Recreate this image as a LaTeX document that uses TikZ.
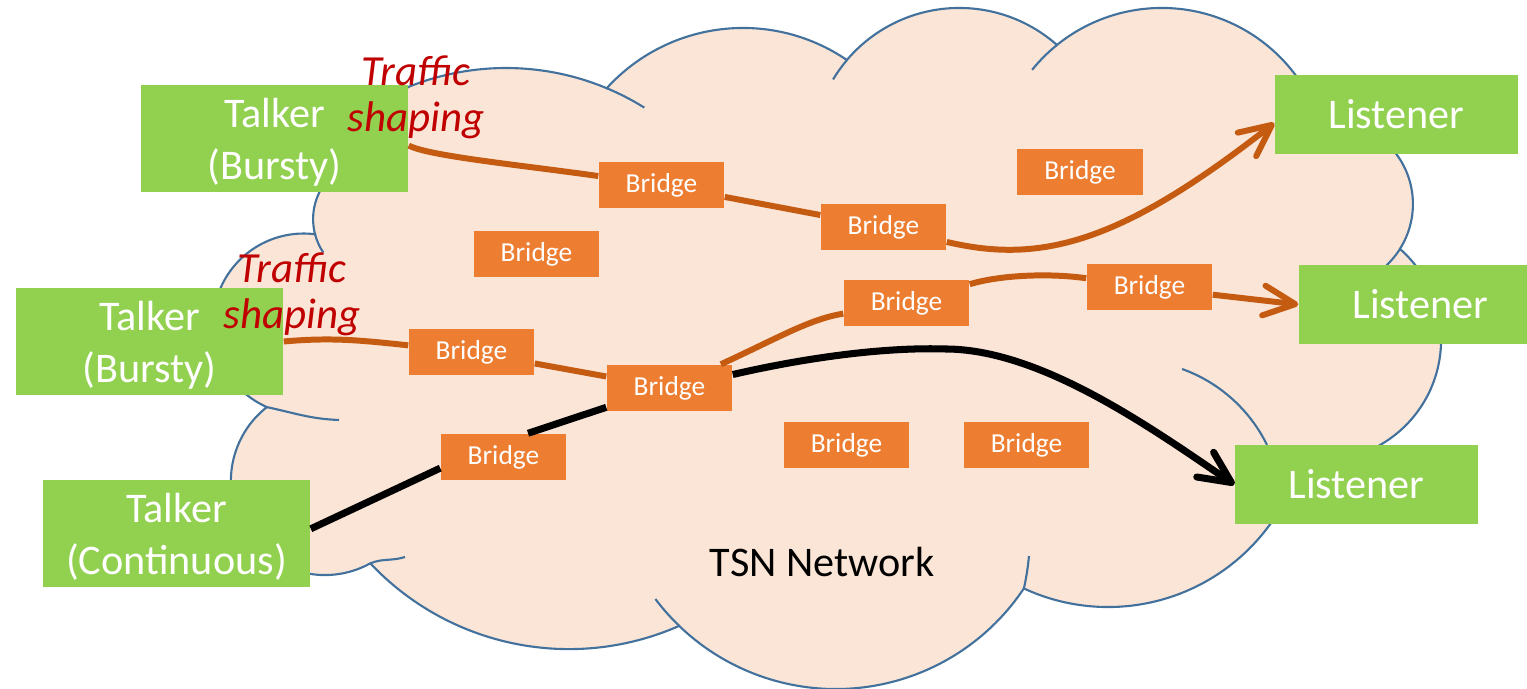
\documentclass[tikz,border=0pt]{standalone}
\usepackage{fontspec}
\setmainfont{Carlito}
\usepackage{tikz}
\usetikzlibrary{arrows.meta}
\definecolor{tsngreen}{RGB}{146,208,80}
\definecolor{bridgeorange}{RGB}{237,125,49}
\definecolor{floworange}{RGB}{197,90,17}
\definecolor{cloudfill}{RGB}{251,229,214}
\definecolor{cloudline}{RGB}{65,113,156}
\definecolor{shapingred}{RGB}{192,0,0}
\newcommand{\boxfont}{\fontsize{12pt}{14.8pt}\selectfont}
\newcommand{\bridgefont}{\fontsize{7.8pt}{9pt}\selectfont}
\newcommand{\notefont}{\fontsize{12.2pt}{13.1pt}\selectfont\itshape}

\begin{document}
\begin{tikzpicture}[x=0.01cm,y=0.01cm,
  endbox/.style={fill=tsngreen,text=white,minimum width=2.67cm,minimum height=1.07cm,inner sep=0pt,align=center,font=\boxfont},
  listenerbox/.style={fill=tsngreen,text=white,minimum width=2.43cm,minimum height=0.79cm,inner sep=0pt,font=\boxfont},
  bridgebox/.style={fill=bridgeorange,text=white,minimum width=1.25cm,minimum height=0.46cm,inner sep=0pt,font=\bridgefont},
  shapingnote/.style={text=shapingred,align=center,inner sep=0pt,font=\notefont},
  cloudedge/.style={draw=cloudline,line width=0.6pt},
  flow/.style={draw=floworange,line width=1.7pt},
  stream/.style={draw=black,line width=2pt},
  tip/.style={-{Straight Barb[length=9pt,width=8.5pt,round]}}]
\useasboundingbox (0,0) rectangle (1527,689);

\draw[cloudedge,fill=cloudfill] (266.8,281.9) arc[start angle=246,end angle=82.8,radius=90.7]
  arc[start angle=194.7,end angle=100,radius=60] -- (407.8,601.8)
  arc[start angle=112.1,end angle=67.3,radius=261]
  arc[start angle=137.7,end angle=55.7,radius=184.3]
  arc[start angle=139.7,end angle=48.5,radius=147.4]
  arc[start angle=128.9,end angle=18.8,radius=166.9]
  arc[start angle=96.6,end angle=-32.4,radius=83.6]
  arc[start angle=48.7,end angle=-99,radius=121.1]
  arc[start angle=-15.2,end angle=-114.9,radius=200]
  arc[start angle=-33.7,end angle=-133.9,radius=226]
  arc[start angle=-66.2,end angle=-136.7,radius=273]
  arc[start angle=-61.1,end angle=-231.8,radius=94] -- cycle;
\draw[cloudedge] (266.8,281.9) to[out=-12,in=178] (339,269);
\draw[cloudedge] (315,454.8) arc[start angle=194.7,end angle=214,radius=60];
\draw[cloudedge] (606.7,600.8) arc[start angle=67.3,end angle=58,radius=261];
\draw[cloudedge] (847,629) arc[start angle=139.7,end angle=149,radius=147.4];
\draw[cloudedge] (1057,644) arc[start angle=128.9,end angle=141,radius=166.9];
\draw[cloudedge] (1400,440) arc[start angle=-32.4,end angle=-47,radius=83.6];
\draw[cloudedge] (1182.1,320) arc[start angle=70.2,end angle=26.2,radius=152];
\draw[cloudedge] (1023.9,100.5) to[out=78,in=-96] (1029,133);
\draw[cloudedge] (679.2,63.1) arc[start angle=-133.9,end angle=-143,radius=226];
\draw[cloudedge] (370.4,125.7) to[out=22,in=198] (405,132);

\node[endbox] (t1) at (274.5,550.5) {\strut Talker\\(Bursty)};
\node[endbox] (t2) at (149.5,347.5) {\strut Talker\\(Bursty)};
\node[endbox] (t3) at (176.5,155.5) {\strut Talker\\(Continuous)};
\node[listenerbox] (l1) at (1396.5,574.5) {Listener};
\node[listenerbox] (l2) at (1420.5,384.5) {Listener};
\node[listenerbox] (l3) at (1356.5,204.5) {Listener};

\node[bridgebox] (b1) at (661.5,504) {Bridge};
\node[bridgebox] (b2) at (883.5,462) {Bridge};
\node[bridgebox] (b3) at (1080,517) {Bridge};
\node[bridgebox] (b4) at (536.5,434.5) {Bridge};
\node[bridgebox] (b5) at (906.5,385.5) {Bridge};
\node[bridgebox] (b6) at (1149.5,401.5) {Bridge};
\node[bridgebox] (b7) at (471.5,337) {Bridge};
\node[bridgebox] (b8) at (669.5,301) {Bridge};
\node[bridgebox] (b9) at (503.5,232) {Bridge};
\node[bridgebox] (b10) at (846.5,244) {Bridge};
\node[bridgebox] (b11) at (1026.5,244) {Bridge};

\draw[flow] (t1.-3) .. controls (428,533) and (520,524) .. (b1);
\draw[flow] (b1) -- (b2);
\draw[flow,tip] (b2) .. controls (1040,425) and (1120,445) .. (l1.184);

\draw[flow] (t2.east) to[out=5,in=174] (b7);
\draw[flow] (b7) -- (b8);
\draw[flow] (b8) .. controls (780,352) and (810,370) .. (b5);
\draw[flow] (b5) .. controls (1000,414) and (1050,416) .. (b6);
\draw[flow,tip] (b6) -- (l2.west);

\coordinate (peak) at (945,340);
\draw[stream] (t3.2) -- (b9.190);
\draw[stream] (b9.44) -- (b8.197);
\draw[stream,tip] (b8.12) .. controls (800,330) and (880,342) .. (peak)
  .. controls (1040,340) and (1150,262) .. (l3.west);

\node[shapingnote] (ts1) at (416,591.5) {Traffic\\shaping};
\node[shapingnote] (ts2) at (292,395) {Traffic\\shaping};
\node[font=\boxfont] (tsn) at (822,127) {TSN Network};
\end{tikzpicture}
\end{document}
